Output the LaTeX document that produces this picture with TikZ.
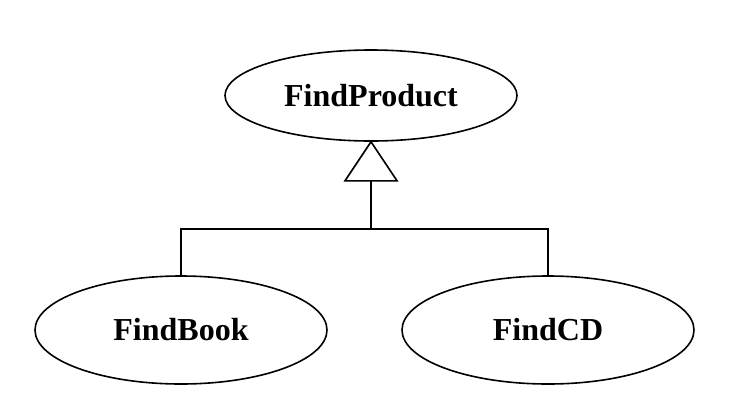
\documentclass[tikz,border=0pt]{standalone}
\usepackage{fontspec}
\setmainfont{Liberation Serif}
\usetikzlibrary{shapes.geometric,positioning,calc}
\tikzstyle{usecase}=[draw, ellipse, line width=1.6pt, inner sep=0pt,
    minimum width=292pt, font=\fontsize{32}{36}\selectfont\bfseries]
\tikzstyle{link}=[draw, line width=1.6pt]

\begin{document}
\begin{tikzpicture}[x=1pt,y=-1pt]
    \useasboundingbox (0,0) rectangle (736,400);
    \node (prod) [usecase, minimum height=91pt] at (371,95.5) {FindProduct};
    \node (book) [usecase, minimum height=108pt] at (181,330) {FindBook};
    \node (cd) [usecase, minimum height=108pt] at (548,330) {FindCD};
    \coordinate (base) at ($(prod.south)+(0,39)$);
    \coordinate (join) at ($(base)+(0,48)$);
    \path [link, line join=miter] (prod.south) -- ($(base)+(-26,0)$) -- ($(base)+(26,0)$) -- cycle;
    \path [link] (base) -- (join);
    \path [link] (book.north) |- (join) -| (cd.north);
\end{tikzpicture}
\end{document}
